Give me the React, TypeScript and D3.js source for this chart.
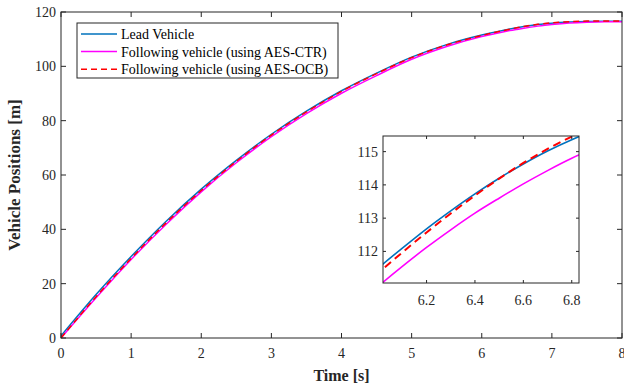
import React from "react";
import * as d3 from "d3";

// time samples [s]
const time = [0, 0.5, 1, 1.5, 2, 2.5, 3, 3.5, 4, 4.5, 5, 5.5, 6, 6.1, 6.2, 6.3, 6.4, 6.5, 6.6, 6.7, 6.8, 6.9, 7, 7.25, 7.5, 7.75, 8];
// positions [m]
const leadVehicle = [0.8, 16.0, 30.0, 43.0, 54.8, 65.4, 75.0, 83.5, 91.0, 97.5, 103.4, 108.0, 111.5, 112.1, 112.68, 113.22, 113.73, 114.2, 114.63, 115.02, 115.36, 115.65, 115.9, 116.3, 116.5, 116.55, 116.55];
const followCTR = [0, 14.8, 28.9, 41.9, 53.8, 64.5, 74.1, 82.6, 90.1, 96.6, 102.6, 107.3, 110.95, 111.55, 112.12, 112.65, 113.15, 113.6, 114.03, 114.43, 114.8, 115.12, 115.4, 115.95, 116.25, 116.38, 116.4];
const followOCB = [0, 15.2, 29.3, 42.4, 54.3, 65.0, 74.7, 83.2, 90.8, 97.3, 103.2, 107.85, 111.35, 111.97, 112.57, 113.14, 113.68, 114.19, 114.66, 115.08, 115.45, 115.77, 116.04, 116.45, 116.65, 116.7, 116.7];

const xTicks = [0, 1, 2, 3, 4, 5, 6, 7, 8];
const yTicks = [0, 20, 40, 60, 80, 100, 120];
const insetXTicks = [6.2, 6.4, 6.6, 6.8];
const insetYTicks = [112, 113, 114, 115];

const seriesNames = ["Lead Vehicle", "Following vehicle (using AES-CTR)", "Following vehicle (using AES-OCB)"];
const seriesColors = ["#0072BD", "#FF00FF", "#FF0000"];
const seriesDash = [null, null, "6,4"];
const seriesValues = [leadVehicle, followCTR, followOCB];

const W = 624;
const H = 388;
const FONT = "Liberation Serif, Times New Roman, serif";
const AXIS = "#262626";
const txt = { fontFamily: FONT };

export default function App() {
  const x = d3.scaleLinear().domain([0, 8]).range([61, 622]);
  const y = d3.scaleLinear().domain([0, 120]).range([338, 12]);

  // zoomed inset
  const ix = d3.scaleLinear().domain([6.02, 6.83]).range([383, 579]);
  const iy = d3.scaleLinear().domain([111.05, 115.47]).range([283, 136]);

  const mainLine = (vals: number[]) =>
    d3.line<number>()
      .x((_, i) => x(time[i]))
      .y((d) => y(d))
      .curve(d3.curveMonotoneX)(vals) ?? "";

  const insetLine = (vals: number[]) =>
    d3.line<number>()
      .x((_, i) => ix(time[i]))
      .y((d) => iy(d))
      .curve(d3.curveMonotoneX)(vals) ?? "";

  const [x0, x1] = x.range();
  const [y0, y1] = y.range();
  const [ix0, ix1] = ix.range();
  const [iy0, iy1] = iy.range();

  return (
    <svg width={W} height={H} style={{ position: "absolute", left: 0, top: 0, background: "#fff", fontFamily: FONT }}>
      <defs>
        <clipPath id="mainClip">
          <rect x={x0} y={y1} width={x1 - x0} height={y0 - y1} />
        </clipPath>
        <clipPath id="insetClip">
          <rect x={ix0} y={iy1} width={ix1 - ix0} height={iy0 - iy1} />
        </clipPath>
      </defs>

      {/* main series */}
      <g clipPath="url(#mainClip)">
        {seriesValues.map((vals, i) => (
          <path key={i} d={mainLine(vals)} fill="none" stroke={seriesColors[i]}
            strokeWidth={1.5} strokeDasharray={seriesDash[i] ?? undefined} />
        ))}
      </g>

      {/* main box + ticks */}
      <rect x={x0} y={y1} width={x1 - x0} height={y0 - y1} fill="none" stroke={AXIS} strokeWidth={1} />
      {xTicks.map((t) => (
        <g key={"x" + t}>
          <line x1={x(t)} x2={x(t)} y1={y0} y2={y0 - 5} stroke={AXIS} />
          <line x1={x(t)} x2={x(t)} y1={y1} y2={y1 + 5} stroke={AXIS} />
          <text style={txt} x={x(t)} y={y0 + 20} textAnchor="middle" fontSize={14} fill={AXIS}>{t}</text>
        </g>
      ))}
      {yTicks.map((t) => (
        <g key={"y" + t}>
          <line x1={x0} x2={x0 + 5} y1={y(t)} y2={y(t)} stroke={AXIS} />
          <line x1={x1} x2={x1 - 5} y1={y(t)} y2={y(t)} stroke={AXIS} />
          <text style={txt} x={x0 - 5} y={y(t)} dy="0.35em" textAnchor="end" fontSize={14} fill={AXIS}>{t}</text>
        </g>
      ))}
      <text style={txt} x={(x0 + x1) / 2} y={381} textAnchor="middle" fontSize={16} fontWeight="bold" fill={AXIS}>Time [s]</text>
      <text style={txt} transform={`translate(20,${(y0 + y1) / 2}) rotate(-90)`} textAnchor="middle" fontSize={17}
        fontWeight="bold" fill={AXIS}>Vehicle Positions [m]</text>

      {/* legend */}
      <g>
        <rect x={77} y={23} width={261} height={55} fill="#fff" stroke={AXIS} strokeWidth={1} />
        {seriesNames.map((name, i) => {
          const ly = 34 + i * 17.6;
          return (
            <g key={name}>
              <line x1={81} x2={117} y1={ly} y2={ly} stroke={seriesColors[i]} strokeWidth={1.5}
                strokeDasharray={seriesDash[i] ?? undefined} />
              <text style={txt} x={121} y={ly} dy="0.35em" fontSize={14} fill="#000">{name}</text>
            </g>
          );
        })}
      </g>

      {/* inset */}
      <rect x={ix0} y={iy1} width={ix1 - ix0} height={iy0 - iy1} fill="#fff" />
      <g clipPath="url(#insetClip)">
        {seriesValues.map((vals, i) => (
          <path key={i} d={insetLine(vals)} fill="none" stroke={seriesColors[i]}
            strokeWidth={seriesDash[i] ? 2 : 1.6} strokeDasharray={seriesDash[i] ? "8,5" : undefined} />
        ))}
      </g>
      <rect x={ix0} y={iy1} width={ix1 - ix0} height={iy0 - iy1} fill="none" stroke={AXIS} strokeWidth={1} />
      {insetXTicks.map((t) => (
        <g key={"ix" + t}>
          <line x1={ix(t)} x2={ix(t)} y1={iy0} y2={iy0 - 3} stroke={AXIS} />
          <line x1={ix(t)} x2={ix(t)} y1={iy1} y2={iy1 + 3} stroke={AXIS} />
          <text style={txt} x={ix(t)} y={iy0 + 22} textAnchor="middle" fontSize={14} fill={AXIS}>{t.toFixed(1)}</text>
        </g>
      ))}
      {insetYTicks.map((t) => (
        <g key={"iy" + t}>
          <line x1={ix0} x2={ix0 + 3} y1={iy(t)} y2={iy(t)} stroke={AXIS} />
          <line x1={ix1} x2={ix1 - 3} y1={iy(t)} y2={iy(t)} stroke={AXIS} />
          <text style={txt} x={ix0 - 5} y={iy(t)} dy="0.35em" textAnchor="end" fontSize={14} fill={AXIS}>{t}</text>
        </g>
      ))}
    </svg>
  );
}
